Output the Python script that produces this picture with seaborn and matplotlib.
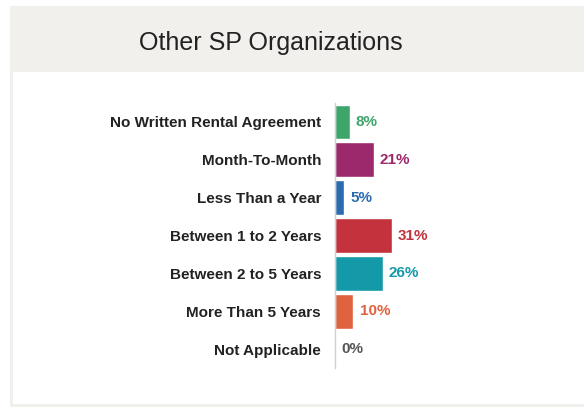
import matplotlib
matplotlib.use('Agg')
import matplotlib.pyplot as plt
import seaborn as sns
import pandas as pd
from matplotlib.patches import Rectangle

# Rental agreement length, other SP organizations
categories = ['No Written Rental Agreement', 'Month-To-Month', 'Less Than a Year',
              'Between 1 to 2 Years', 'Between 2 to 5 Years', 'More Than 5 Years',
              'Not Applicable']
values = [8, 21, 5, 31, 26, 10, 0]
colors = ['#3fa66b', '#9b296c', '#2c6bb0', '#c3323d', '#1499a8', '#e0633f', '#cccccc']
label_colors = ['#3fa66b', '#9b296c', '#2c6bb0', '#c3323d', '#1499a8', '#e0633f', '#555555']

df = pd.DataFrame({'category': categories, 'value': values})

sns.set_style('white')
plt.rcParams['font.family'] = ['Liberation Sans', 'DejaVu Sans']

W, H = 584, 407
fig = plt.figure(figsize=(W / 100, H / 100), dpi=100)
fig.patch.set_facecolor('white')

# card frame: light gray border and title bar, white body
fig.patches.append(Rectangle((10 / W, 0), 1 - 10 / W, (H - 6) / H, transform=fig.transFigure,
                             facecolor='#f1f0ed', edgecolor='none', zorder=-3))
fig.patches.append(Rectangle((13 / W, 3 / H), 1 - 13 / W, (H - 72 - 3) / H, transform=fig.transFigure,
                             facecolor='white', edgecolor='none', zorder=-2))
fig.text(271 / W, 1 - 43 / H, 'Other SP Organizations', ha='center', va='center',
         fontsize=18, color='#222222')

ax = fig.add_axes([335 / W, 39 / H, 220 / W, 265 / H])
ax.patch.set_alpha(0)
sns.barplot(data=df, y='category', x='value', hue='category', palette=colors,
            orient='h', width=0.92, legend=False, ax=ax, saturation=1)

for cont, c in zip(ax.containers, label_colors):
    ax.bar_label(cont, fmt='%d%%', padding=4.5, color=c, fontsize=11, fontweight='bold')

ax.set_xlim(0, 120)
ax.set_ylim(6.5, -0.5)
ax.set_xlabel('')
ax.set_ylabel('')
ax.set_xticks([])
ax.tick_params(axis='y', length=0, pad=10)
for lab in ax.get_yticklabels():
    lab.set_fontweight('bold')
    lab.set_fontsize(11)
    lab.set_color('#222222')
for s in ['top', 'right', 'bottom']:
    ax.spines[s].set_visible(False)
ax.spines['left'].set_color('#d0d0d0')
ax.spines['left'].set_linewidth(1)

fig.savefig('out.png', dpi=100)
